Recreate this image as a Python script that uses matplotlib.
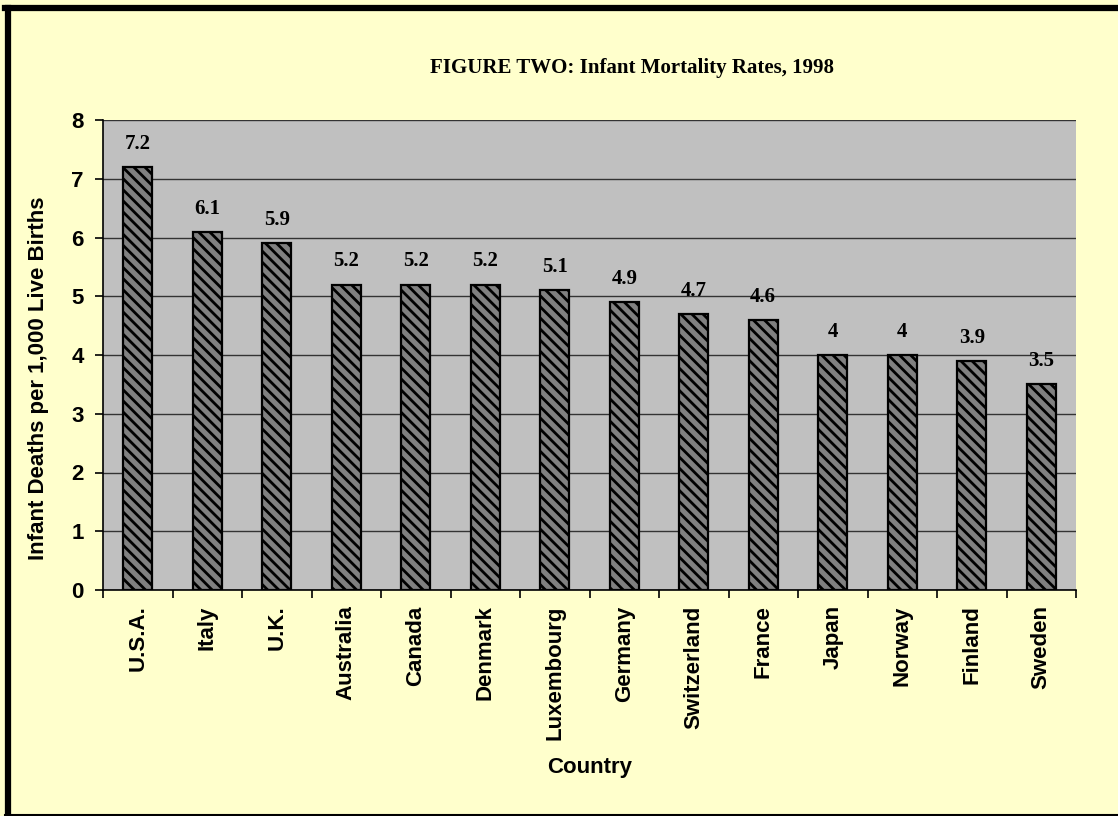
import numpy as np
import matplotlib
matplotlib.use('Agg')
import matplotlib.pyplot as plt
from matplotlib.lines import Line2D

# ---- data ----
countries = ['U.S.A.', 'Italy', 'U.K.', 'Australia', 'Canada', 'Denmark', 'Luxembourg',
             'Germany', 'Switzerland', 'France', 'Japan', 'Norway', 'Finland', 'Sweden']
rates = [7.2, 6.1, 5.9, 5.2, 5.2, 5.2, 5.1, 4.9, 4.7, 4.6, 4.0, 4.0, 3.9, 3.5]
value_labels = ['7.2', '6.1', '5.9', '5.2', '5.2', '5.2', '5.1',
                '4.9', '4.7', '4.6', '4', '4', '3.9', '3.5']

TITLE = 'FIGURE TWO: Infant Mortality Rates, 1998'
YLABEL = 'Infant Deaths per 1,000 Live Births'
XLABEL = 'Country'

plt.rcParams['hatch.linewidth'] = 2.0
plt.rcParams['hatch.color'] = 'black'

fig = plt.figure(figsize=(11.18, 8.16), dpi=100)
fig.patch.set_facecolor('#FFFFCC')
ax = fig.add_axes([103/1118, 1 - 590/816, (1076 - 103)/1118, (590 - 120)/816])
ax.set_facecolor('#C0C0C0')

x = np.arange(len(countries))
ax.bar(x, rates, width=0.42, color='#808080', edgecolor='black',
       linewidth=1.6, hatch='\\\\\\', zorder=3)

for xi, v, lab in zip(x, rates, value_labels):
    ax.annotate(lab, (xi, v), xytext=(0, 23), textcoords='offset pixels',
                ha='center', va='center', fontsize=15, fontweight='bold',
                family='Liberation Serif', zorder=4)

ax.set_xlim(-0.5, len(countries) - 0.5)
ax.set_ylim(0, 8)
ax.set_yticks(range(0, 9))
ax.yaxis.grid(True, color='#333333', linewidth=1.0, zorder=1)
ax.set_axisbelow(True)

# category labels at centres, tick marks between categories
ax.set_xticks(x)
ax.set_xticklabels(countries, rotation=90, fontsize=16, fontweight='bold',
                   family='Liberation Sans', va='top')
ax.tick_params(axis='x', which='major', length=0, pad=11)
ax.set_xticks(np.arange(-0.5, len(countries), 1.0), minor=True)
ax.tick_params(axis='x', which='minor', length=6, width=1.2, direction='out')
ax.tick_params(axis='y', length=6, width=1.2, direction='out', pad=8)
for t in ax.get_yticklabels():
    t.set_fontsize(16)
    t.set_fontweight('bold')
    t.set_family('Liberation Sans')

for side in ['top', 'right']:
    ax.spines[side].set_visible(False)
ax.spines['left'].set_linewidth(1.2)
ax.spines['bottom'].set_linewidth(1.2)

ax.set_ylabel(YLABEL, fontsize=16, fontweight='bold', family='Liberation Sans')
ax.yaxis.set_label_coords(-0.056, 0.45)
fig.text((1076 + 103) / 2 / 1118, 1 - 768/816, XLABEL, ha='center', va='center',
         fontsize=16, fontweight='bold', family='Liberation Sans')
fig.text(632/1118, 1 - 68/816, TITLE, ha='center', va='center',
         fontsize=15, fontweight='bold', family='Liberation Serif')

# black frame (thick left/top, thin bottom)
fig.add_artist(Line2D([8/1118, 8/1118], [1 - 8/816, 1 - 815/816], color='black',
                      linewidth=4.5, transform=fig.transFigure))
fig.add_artist(Line2D([5/1118, 1], [1 - 8/816, 1 - 8/816], color='black',
                      linewidth=4.5, transform=fig.transFigure))
fig.add_artist(Line2D([5/1118, 1], [1 - 814.5/816, 1 - 814.5/816], color='black',
                      linewidth=1.5, transform=fig.transFigure))

fig.savefig('out.png', dpi=100, facecolor=fig.get_facecolor())
